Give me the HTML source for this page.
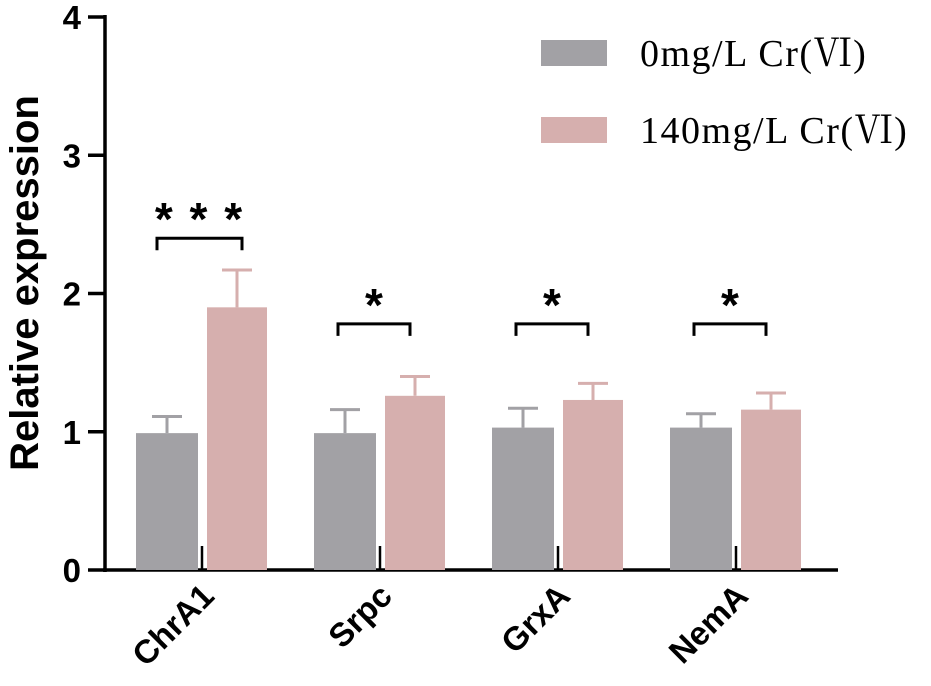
<!DOCTYPE html>
<html><head><meta charset="utf-8"><style>
body{margin:0;background:#fff}
svg{display:block}
text{font-family:"Liberation Sans",Arial,sans-serif}
</style></head><body>
<svg id="chart" width="931" height="686" viewBox="0 0 931 686" xmlns="http://www.w3.org/2000/svg"></svg>
<script>
const categories = ["ChrA1","Srpc","GrxA","NemA"];
const controlValues = [0.99, 0.99, 1.03, 1.03];
const controlErrors = [0.12, 0.17, 0.14, 0.10];
const treatedValues = [1.90, 1.26, 1.23, 1.16];
const treatedErrors = [0.27, 0.14, 0.12, 0.12];
const significance = ["* * *", "*", "*", "*"];
const bracketLevels = [2.4, 1.78, 1.78, 1.78];
const yTicks = [0,1,2,3,4];
const seriesNames = ["0mg/L Cr(Ⅵ)","140mg/L Cr(Ⅵ)"];

const NS="http://www.w3.org/2000/svg";
const svg=document.getElementById('chart');
const y0=570, yTop=17, yMax=4;
const y=v=>y0-(v/yMax)*(y0-yTop);
const groupStart=136, groupStep=178;
const barW=62;
const gx=i=>groupStart+i*groupStep;
function mk(tag,attrs,parent){const e=document.createElementNS(NS,tag);for(const k in attrs)e.setAttribute(k,attrs[k]);(parent||svg).appendChild(e);return e;}

const yAxis=mk('line',{x1:105,y1:15,x2:105,y2:572,stroke:'#000','stroke-width':3.5});


const xAxis=mk('line',{x1:103,y1:570,x2:838,y2:570,stroke:'#000','stroke-width':3.5});


yTicks.forEach(t=>{
  const l=mk('line',{x1:88,y1:y(t),x2:105,y2:y(t),stroke:'#000','stroke-width':3.5});
  
  
  const tx=mk('text',{x:81,y:y(t)+12,'text-anchor':'end','font-size':33,'font-weight':'bold'});
  tx.textContent=t;
  
  
});
const yt=mk('text',{x:0,y:0,'text-anchor':'middle','font-size':40,'font-weight':'bold',transform:'translate(38,283) rotate(-90)'});
yt.textContent='Relative expression';



categories.forEach((c,i)=>{
  const x=gx(i);
  const xc=x+barW/2, xt=x+71+barW/2-1;
  const e1=mk('path',{d:`M${xc} ${y(controlValues[i])} V${y(controlValues[i]+controlErrors[i])} M${xc-15} ${y(controlValues[i]+controlErrors[i])} H${xc+15}`,stroke:'#a2a1a5','stroke-width':3,fill:'none'});
  
  
  const e2=mk('path',{d:`M${xt} ${y(treatedValues[i])} V${y(treatedValues[i]+treatedErrors[i])} M${xt-15} ${y(treatedValues[i]+treatedErrors[i])} H${xt+15}`,stroke:'#d6afae','stroke-width':3,fill:'none'});
  
  
  const b1=mk('rect',{x:x,y:y(controlValues[i]),width:barW,height:y0-y(controlValues[i]),fill:'#a2a1a5'});
  
  
  const b2=mk('rect',{x:x+71,y:y(treatedValues[i]),width:barW-2,height:y0-y(treatedValues[i]),fill:'#d6afae'});
  
  
  const tk=mk('line',{x1:x+66,y1:546,x2:x+66,y2:570,stroke:'#000','stroke-width':2.5});
  
  
  const by=y(bracketLevels[i]);
  const bx1=i==0?x+21:x+24, bx2=i==0?x+106:x+96;
  const br=mk('path',{d:`M${bx1} ${by+12} V${by} H${bx2} V${by+12}`,stroke:'#000','stroke-width':3,fill:'none'});
  
  
  const st=mk('text',{x:(bx1+bx2)/2,y:by-3,'text-anchor':'middle','font-size':46,'font-weight':'bold','letter-spacing':i==0?'2':'0'});
  st.textContent=significance[i];
  
  
  const lb=mk('text',{x:0,y:0,'text-anchor':'end','font-size':33,'font-weight':'bold',transform:`translate(${x+80},${598}) rotate(-45)`});
  lb.textContent=c;
  
  
});

const colors=['#a2a1a5','#d6afae'];
seriesNames.forEach((n,i)=>{
  const ly=52+i*77;
  const r=mk('rect',{x:541,y:ly-12,width:66,height:26,fill:colors[i]});
  
  
  const t=mk('text',{x:640,y:ly+14,'font-size':38,'letter-spacing':'1.5',style:'font-family:"Liberation Serif","Noto Serif CJK SC",serif'});
  t.textContent=n;
  
  
});
</script>
</body></html>
